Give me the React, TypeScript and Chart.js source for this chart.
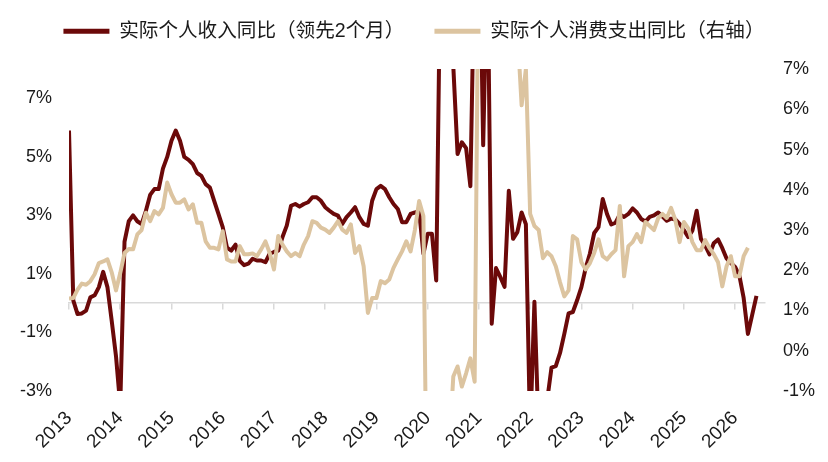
import { useEffect, useRef } from "react"
import { Chart, registerables } from "chart.js"

Chart.register(...registerables)

// monthly categories, Jan 2013 .. Aug 2026
const years = [2013, 2014, 2015, 2016, 2017, 2018, 2019, 2020, 2021, 2022, 2023, 2024, 2025, 2026]
const months = years
  .flatMap((y) => ["01", "02", "03", "04", "05", "06", "07", "08", "09", "10", "11", "12"].map((m) => `${y}-${m}`))
  .slice(0, 164)

const leftTicks = [-3, -1, 1, 3, 5, 7]
const rightTicks = [-1, 0, 1, 2, 3, 4, 5, 6, 7]

const incomeLabel = "实际个人收入同比（领先2个月）"
const spendingLabel = "实际个人消费支出同比（右轴）"

// real personal income yoy, % (left axis), shifted 2 months ahead
const incomeYoY = [
  5.9, 0.1, -0.37, -0.35, -0.25, 0.2, 0.27, 0.55, 1.07, 0.55, -0.6, -1.8, // 2013
  -3.5, 2.1, 2.8, 3.0, 2.8, 2.7, 3.15, 3.7, 3.9, 3.9, 4.6, 5.0, // 2014
  5.55, 5.9, 5.55, 5.0, 4.9, 4.75, 4.45, 4.35, 4.07, 3.95, 3.5, 3.05, // 2015
  2.6, 1.9, 1.8, 2.0, 1.45, 1.3, 1.35, 1.52, 1.46, 1.46, 1.4, 1.69, // 2016
  1.75, 1.8, 2.26, 2.65, 3.33, 3.39, 3.3, 3.39, 3.45, 3.62, 3.62, 3.5, // 2017
  3.28, 3.16, 3.05, 2.99, 2.71, 2.94, 3.1, 3.28, 2.94, 2.71, 2.65, 3.5, // 2018
  3.9, 4.01, 3.9, 3.62, 3.39, 3.22, 2.77, 2.77, 3.05, 3.1, 3.16, 1.69, // 2019
  2.37, 2.37, 0.78, 12, 10, 8.1, 8.1, 5.1, 5.5, 5.3, 4.0, 12, // 2020
  14, 5.4, 12, -0.7, 1.2, 0.9, 0.56, 3.84, 2.2, 2.43, 3.1, 2.7, // 2021
  -4.5, 0.05, -4.5, -4.5, -3.3, -2.2, -2.15, -1.7, -1.05, -0.35, -0.3, 0.1, // 2022
  0.55, 1.2, 1.7, 2.4, 2.6, 3.56, 3.05, 2.69, 2.75, 3.03, 2.95, 3.05, // 2023
  3.24, 3.1, 2.88, 2.79, 2.95, 3.0, 3.1, 2.96, 2.82, 2.89, 2.86, 2.71, // 2024
  2.5, 2.26, 2.48, 3.16, 2.2, 1.97, 1.67, 2.05, 2.18, 1.88, 1.53, 1.37, // 2025
  1.24, 0.94, 0.18, -1.05, -0.4, 0.25, // 2026
]

// real personal consumption expenditure yoy, % (right axis)
const spendingYoY = [
  1.3, 1.31, 1.52, 1.67, 1.64, 1.73, 1.9, 2.18, 2.22, 2.27, 1.95, 1.5, // 2013
  1.93, 2.43, 2.53, 2.52, 2.89, 3.0, 3.43, 3.22, 3.47, 3.39, 3.55, 4.18, // 2014
  3.89, 3.68, 3.68, 3.76, 3.51, 3.64, 3.18, 3.18, 2.72, 2.56, 2.56, 2.52, // 2015
  2.97, 2.27, 2.22, 2.22, 2.6, 2.4, 2.4, 2.42, 2.35, 2.52, 2.72, 2.43, // 2016
  2.02, 2.85, 2.64, 2.47, 2.35, 2.43, 2.35, 2.64, 2.85, 3.22, 3.18, 3.06, // 2017
  3.01, 2.93, 3.06, 3.22, 3.01, 2.93, 3.14, 2.43, 2.6, 2.1, 0.94, 1.31, // 2018
  1.31, 1.73, 1.68, 1.77, 2.06, 2.27, 2.47, 2.72, 2.47, 3.0, 3.72, 3.35, // 2019
  -6, -17, -10, -6, -4, -2.5, -0.64, -0.39, -0.89, -0.56, -0.19, -0.77, // 2020
  11, 25, 16, 12, 10, 9, 8.5, 8.2, 9, 8, 6.1, 7.0, // 2021
  3.4, 3.1, 3.0, 2.3, 2.45, 2.35, 2.1, 1.7, 1.35, 1.5, 2.85, 2.77, // 2022
  2.2, 2.02, 2.18, 2.43, 2.77, 2.35, 2.27, 2.4, 2.5, 3.6, 1.85, 2.6, // 2023
  2.7, 2.9, 2.7, 3.2, 3.1, 3.0, 3.3, 3.4, 3.3, 3.55, 3.25, 2.7, // 2024
  3.2, 3.05, 2.7, 2.5, 2.5, 2.75, 2.55, 2.4, 2.2, 1.6, 2.1, 2.35, // 2025
  1.85, 1.85, 2.35, 2.56, // 2026
]

const BROWN = "#6b0909"
const TAN = "#dcc4a0"
const AXIS = "#d9d9d9"
const TEXT = "#1a1a1a"

// extra room between the legend and the plot
const legendGap = {
  id: "legendGap",
  beforeInit(chart: any) {
    if (!chart.legend) return
    const fit = chart.legend.fit
    chart.legend.fit = function () {
      fit.call(this)
      this.height += 18
    }
  },
}

export default function App() {
  const canvasRef = useRef<HTMLCanvasElement>(null)
  const chartRef = useRef<Chart | null>(null)

  useEffect(() => {
    document.body.style.margin = "0"
    const canvas = canvasRef.current
    if (!canvas) return
    if (chartRef.current) chartRef.current.destroy()

    const sans = "'Liberation Sans', Arial, sans-serif"
    const yFont = { family: sans, size: 18 }
    const xFont = { family: sans, size: 19 }

    chartRef.current = new Chart(canvas, {
      type: "line",
      data: {
        labels: months,
        datasets: [
          {
            label: incomeLabel,
            data: incomeYoY,
            yAxisID: "y",
            borderColor: BROWN,
            backgroundColor: BROWN,
            borderWidth: 4,
            borderJoinStyle: "round",
            pointRadius: 0,
            pointBorderWidth: 5,
            order: 2,
            clip: 0,
          },
          {
            label: spendingLabel,
            data: spendingYoY,
            yAxisID: "y1",
            borderColor: TAN,
            backgroundColor: TAN,
            borderWidth: 4,
            borderJoinStyle: "round",
            pointRadius: 0,
            pointBorderWidth: 5,
            order: 1,
            clip: 0,
          },
        ],
      },
      options: {
        animation: false,
        responsive: true,
        maintainAspectRatio: false,
        events: [],
        layout: { padding: { top: -8.5, left: 0, right: 0, bottom: 0 } },
        plugins: {
          legend: {
            position: "top",
            labels: {
              usePointStyle: true,
              pointStyle: "line",
              pointStyleWidth: 46,
              padding: 30,
              color: TEXT,
              font: { family: "'Liberation Sans', 'Noto Sans CJK SC', sans-serif", size: 19.6 },
              sort: (a: any, b: any) => a.datasetIndex - b.datasetIndex,
            },
          },
          tooltip: { enabled: false },
        },
        scales: {
          x: {
            type: "category",
            position: "bottom",
            grid: { display: false, drawTicks: false },
            border: { display: false },
            ticks: {
              autoSkip: false,
              minRotation: 45,
              maxRotation: 45,
              padding: 16,
              color: TEXT,
              font: xFont,
              callback: (_v: any, i: number) => (months[i].endsWith("-01") ? months[i].slice(0, 4) : ""),
            },
            afterFit: (s: any) => {
              s.height = 71
            },
          },
          xz: {
            type: "category",
            position: { y: 0 },
            grid: {
              display: true,
              drawOnChartArea: false,
              drawTicks: true,
              tickLength: 6,
              lineWidth: 1.5,
              color: "transparent",
              tickColor: (c: any) => (c.index % 12 === 0 ? AXIS : "transparent"),
            },
            border: { display: true, color: AXIS, width: 1.5 },
            ticks: { display: false },
          },
          y: {
            position: "left",
            min: -3,
            max: 8,
            afterBuildTicks: (s: any) => {
              s.ticks = leftTicks.map((value) => ({ value }))
            },
            grid: { display: false, drawTicks: false },
            border: { display: false },
            ticks: { color: TEXT, font: yFont, padding: 17, callback: (v: any) => `${v}%` },
            afterFit: (s: any) => {
              s.width = 69
            },
          },
          y1: {
            position: "right",
            min: -1,
            max: 7,
            afterBuildTicks: (s: any) => {
              s.ticks = rightTicks.map((value) => ({ value }))
            },
            grid: { display: false, drawTicks: false },
            border: { display: false },
            ticks: { color: TEXT, font: yFont, padding: 18, callback: (v: any) => `${v}%` },
            afterFit: (s: any) => {
              s.width = 63
            },
          },
        },
      } as any,
      plugins: [legendGap],
    })

    return () => {
      if (chartRef.current) {
        chartRef.current.destroy()
        chartRef.current = null
      }
    }
  }, [])

  return (
    <div style={{ position: "relative", width: 828, height: 462 }}>
      <canvas ref={canvasRef} />
    </div>
  )
}
